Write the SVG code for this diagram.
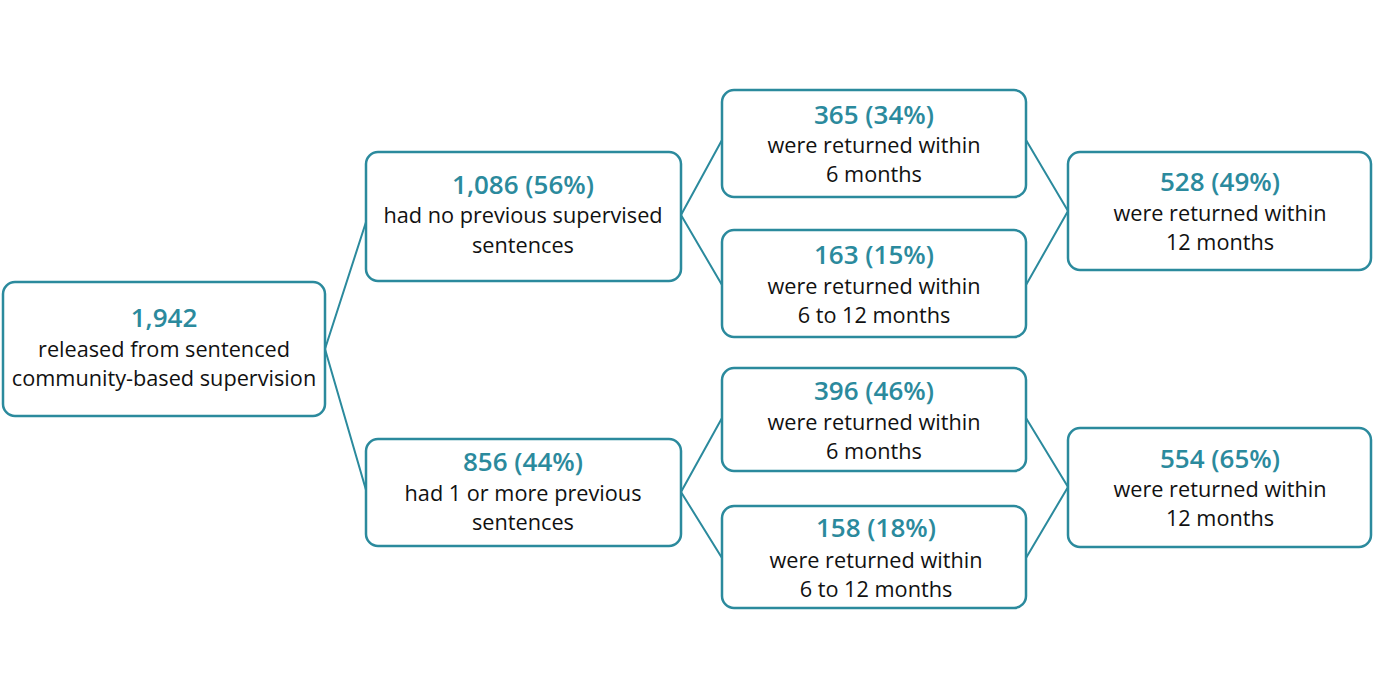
<svg xmlns="http://www.w3.org/2000/svg" width="1386" height="700" viewBox="0 0 1386 700">
<style>
.box{fill:#fff;stroke:#2b8a9d;stroke-width:2.5}
.con{fill:none;stroke:#2b8a9d;stroke-width:2;stroke-linejoin:miter}
.n{font-family:"Open Sans","Noto Sans",sans-serif;font-size:26px;font-weight:600;fill:#2b8a9d;text-anchor:middle}
.t{font-family:"Open Sans","Noto Sans",sans-serif;font-size:21.7px;fill:#111;text-anchor:middle}
</style>
<rect width="1386" height="700" fill="#fff"/>
<g id="connectors">
<polyline class="con" points="366,222 325,349 366,490"/>
<polyline class="con" points="722,140 681,215 722,285"/>
<polyline class="con" points="722,418 681,492 722,558"/>
<polyline class="con" points="1026,140 1068,211 1026,285"/>
<polyline class="con" points="1026,418 1068,487 1026,558"/>
</g>
<g id="n-total">
<rect class="box" x="3" y="282" width="322" height="134" rx="12"/>
<text class="n" x="164" y="327">1,942</text>
<text class="t" x="164" y="357">released from sentenced</text>
<text class="t" x="164" y="386">community-based supervision</text>
</g>
<g id="n-noprev">
<rect class="box" x="366" y="152" width="315" height="129" rx="12"/>
<text class="n" x="523" y="194">1,086 (56%)</text>
<text class="t" x="523" y="223">had no previous supervised</text>
<text class="t" x="523" y="253">sentences</text>
</g>
<g id="n-prev">
<rect class="box" x="366" y="439" width="315" height="107" rx="12"/>
<text class="n" x="523" y="471">856 (44%)</text>
<text class="t" x="523" y="501">had 1 or more previous</text>
<text class="t" x="523" y="530">sentences</text>
</g>
<g id="n-c1">
<rect class="box" x="722" y="90" width="304" height="107" rx="12"/>
<text class="n" x="874" y="124">365 (34%)</text>
<text class="t" x="874" y="153">were returned within</text>
<text class="t" x="874" y="182">6 months</text>
</g>
<g id="n-c2">
<rect class="box" x="722" y="230" width="304" height="107" rx="12"/>
<text class="n" x="874" y="264">163 (15%)</text>
<text class="t" x="874" y="294">were returned within</text>
<text class="t" x="874" y="323">6 to 12 months</text>
</g>
<g id="n-c3">
<rect class="box" x="722" y="368" width="304" height="103" rx="12"/>
<text class="n" x="874" y="400">396 (46%)</text>
<text class="t" x="874" y="430">were returned within</text>
<text class="t" x="874" y="459">6 months</text>
</g>
<g id="n-c4">
<rect class="box" x="722" y="506" width="304" height="102" rx="12"/>
<text class="n" x="876" y="537">158 (18%)</text>
<text class="t" x="876" y="568">were returned within</text>
<text class="t" x="876" y="597">6 to 12 months</text>
</g>
<g id="n-d1">
<rect class="box" x="1068" y="152" width="303" height="118" rx="12"/>
<text class="n" x="1220" y="191">528 (49%)</text>
<text class="t" x="1220" y="221">were returned within</text>
<text class="t" x="1220" y="250">12 months</text>
</g>
<g id="n-d2">
<rect class="box" x="1068" y="428" width="303" height="119" rx="12"/>
<text class="n" x="1220" y="468">554 (65%)</text>
<text class="t" x="1220" y="497">were returned within</text>
<text class="t" x="1220" y="526">12 months</text>
</g>
</svg>
